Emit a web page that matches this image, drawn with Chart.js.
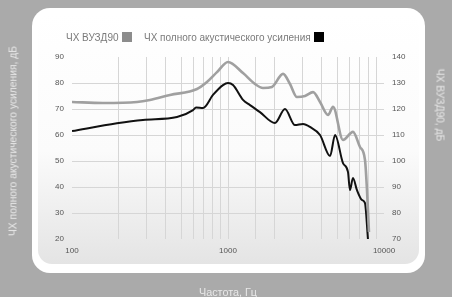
<!DOCTYPE html>
<html><head><meta charset="utf-8">
<script src="https://cdn.jsdelivr.net/npm/chart.js@4"></script>
<style>
html,body{margin:0;padding:0;width:452px;height:297px;overflow:hidden;background:#aaaaaa;font-family:"Liberation Sans",Arial,sans-serif;}
#card{position:absolute;left:32px;top:8px;width:393px;height:265px;background:#fff;border-radius:18px;}
#inner{position:absolute;left:6px;top:5px;right:6px;bottom:9px;border-radius:14px;background:linear-gradient(#ffffff 0%,#fbfbfb 55%,#e4e4e4 100%);}
#wrap{position:absolute;left:0;top:0;width:452px;height:297px;}
.legend{position:absolute;top:32px;font-size:10px;color:#7a7a7a;white-space:nowrap;line-height:11px;}
.box{display:inline-block;width:10px;height:10px;vertical-align:-1px;margin-left:3px;}
.atitle{position:absolute;font-size:10.3px;color:#e8e8e8;white-space:nowrap;transform-origin:50% 50%;}
</style></head>
<body>
<div id="card"><div id="inner"></div></div>
<div id="wrap"><canvas id="c" width="452" height="297"></canvas></div>
<div class="legend" style="left:66px">ЧХ ВУЗД90<span class="box" style="background:#8c8c8c"></span></div>
<div class="legend" style="left:144px">ЧХ полного акустического усиления<span class="box" style="background:#000"></span></div>
<div class="atitle" style="left:13px;top:141px;transform:translate(-50%,-50%) rotate(-90deg)">ЧХ полного акустического усиления, дБ</div>
<div class="atitle" style="left:440px;top:105px;transform:translate(-50%,-50%) rotate(90deg)">ЧХ ВУЗД90, дБ</div>
<div class="atitle" style="left:228px;top:292px;font-size:10.8px;transform:translate(-50%,-50%)">Частота, Гц</div>
<script>
// Gray series: ЧХ ВУЗД90 (right axis, dB)
const grayFreq = [100,158,261,316,425,633,733,850,1000,1248,1490,1675,1914,2254,2497,2768,3117,3509,3890,4378,4714,5460,6325,7016,7554,7780,8010];
const grayVal  = [122.7,122.3,122.7,123.5,125.4,127.7,130.4,134.2,138.1,133.8,129.6,128.1,128.5,133.5,129.6,124.6,125,126.5,122.7,117.7,120.8,108.1,111.2,105.4,100.4,88.8,72.7];
// Black series: ЧХ полного акустического усиления (left axis, dB)
const blackFreq = [100,194,285,471,597,624,692,801,929,1000,1077,1248,1384,1603,2000,2318,2687,3025,3355,3890,4510,4856,5460,5875,6050,6325,6711,7227,7554,7890];
const blackVal  = [61.5,64.5,65.8,66.9,69.6,70.6,70.4,75.4,79.2,80,79.2,73.5,71.5,68.8,64.6,70,63.8,64.2,63.1,60,51.9,60,49.2,45.8,38.8,43.5,38.8,35,33.8,20];
const xTickLabels = [100,1000,10000];
const leftRange = [20,90];
const rightRange = [70,140];

const toPts = (xs, ys) => xs.map((x,i)=>({x:x,y:ys[i]}));
const tickFont = {family:'"Liberation Sans",Arial,sans-serif', size:8};
new Chart(document.getElementById('c'), {
  type:'line',
  data:{datasets:[
    {label:'ЧХ ВУЗД90', data:toPts(grayFreq,grayVal), yAxisID:'y1', borderColor:'#a0a0a0', borderWidth:2.6, pointRadius:0, cubicInterpolationMode:'monotone'},
    {label:'ЧХ полного акустического усиления', data:toPts(blackFreq,blackVal), yAxisID:'y', borderColor:'#111', borderWidth:2, pointRadius:0, cubicInterpolationMode:'monotone'}
  ]},
  options:{
    responsive:false, animation:false,
    layout:{padding:{left:52,right:38,top:57,bottom:38}},
    plugins:{legend:{display:false},tooltip:{enabled:false}},
    scales:{
      x:{type:'logarithmic', min:100, max:10000,
        border:{display:false},
        grid:{drawTicks:false, color:c=> (c.tick && (c.tick.value===100||c.tick.value===10000)) ? 'rgba(0,0,0,0)' : '#d6d6d6'},
        ticks:{autoSkip:false, maxRotation:0, padding:7, color:'#555', font:tickFont,
          callback:(v)=> xTickLabels.includes(v) ? String(v) : ''},
        afterFit:s=>{s.height=20;}
      },
      y:{position:'left', min:leftRange[0], max:leftRange[1],
        border:{display:false},
        grid:{drawTicks:false, color:c=> (c.tick && (c.tick.value===20||c.tick.value===90)) ? 'rgba(0,0,0,0)' : '#d6d6d6'},
        ticks:{stepSize:10, padding:8, color:'#555', font:tickFont},
        afterFit:s=>{s.width=20;}
      },
      y1:{position:'right', min:rightRange[0], max:rightRange[1],
        border:{display:false},
        grid:{display:false, drawTicks:false},
        ticks:{stepSize:10, padding:8, color:'#555', font:tickFont},
        afterFit:s=>{s.width=30;}
      }
    }
  }
});
</script>
</body></html>
